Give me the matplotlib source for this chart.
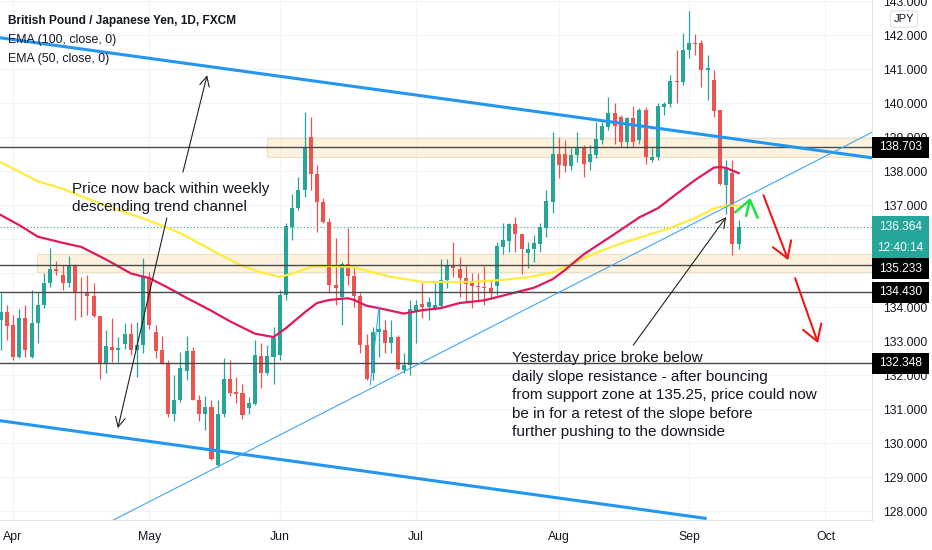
import matplotlib
matplotlib.use('Agg')
import matplotlib.pyplot as plt
from matplotlib.patches import Rectangle
from matplotlib.ticker import FormatStrFormatter

plt.rcParams['font.family'] = ['Liberation Sans', 'DejaVu Sans']

# bar 0 = 1 Apr 2020, weekdays only; the first bar on screen is 30 Mar (-2)
first_bar = -2

opens = [133.62, 133.86, 133.47, 132.52, 133.67, 132.52, 133.52, 134.06, 134.70, 135.12,
         134.94, 134.70, 135.24, 134.42, 134.42, 134.32, 133.73, 132.36, 132.83, 132.73,
         132.91, 133.22, 132.73, 132.88, 134.89, 133.27, 132.73, 132.36, 130.87, 131.26,
         132.13, 132.72, 131.28, 130.87, 131.07, 129.35, 130.87, 131.90, 131.49, 131.46,
         131.02, 131.15, 132.57, 132.05, 132.54, 132.59, 134.35, 136.36, 136.90, 137.44,
         138.99, 137.91, 137.10, 136.51, 134.65, 134.30, 135.28, 134.91, 134.32, 132.88,
         132.05, 133.27, 133.34, 132.93, 133.13, 132.15, 132.30, 133.85, 134.08, 134.01,
         133.96, 134.03, 134.81, 135.23, 135.12, 134.87, 134.70, 134.62, 134.60, 134.55,
         134.62, 135.77, 135.95, 136.44, 136.15, 135.58, 135.70, 135.87, 136.34, 137.10,
         138.50, 138.50, 138.15, 138.47, 138.67, 138.27, 138.47, 138.91, 139.30, 139.71,
         139.58, 138.86, 139.55, 138.91, 139.81, 138.32, 138.42, 139.89, 139.97, 140.66,
         140.61, 141.56, 141.77, 141.76, 140.97, 140.68, 139.79, 137.59, 137.95, 135.87]
highs = [134.40, 134.06, 133.76, 133.93, 134.06, 134.50, 134.45, 135.01, 135.73, 135.36,
         135.24, 135.51, 135.28, 134.89, 134.94, 134.70, 133.75, 133.32, 133.67, 133.13,
         133.54, 133.52, 133.57, 135.43, 135.04, 133.47, 133.15, 132.44, 132.00, 132.69,
         133.15, 132.83, 131.41, 131.38, 131.26, 131.26, 132.49, 132.44, 131.95, 131.75,
         131.36, 133.03, 132.93, 132.88, 133.42, 134.50, 136.48, 137.34, 137.83, 139.74,
         139.60, 138.18, 137.20, 136.61, 136.02, 135.33, 136.34, 135.18, 134.40, 133.22,
         133.42, 134.01, 133.61, 133.61, 133.18, 132.64, 134.20, 134.21, 134.70, 134.30,
         134.70, 135.40, 135.40, 135.92, 135.48, 135.23, 134.99, 134.99, 135.21, 134.79,
         135.92, 136.46, 136.46, 136.64, 136.15, 135.92, 136.12, 136.46, 137.44, 139.16,
         139.01, 138.91, 138.67, 139.16, 138.76, 138.76, 139.45, 139.45, 140.19, 139.99,
         139.65, 139.60, 139.91, 139.84, 139.89, 138.67, 139.99, 140.04, 140.82, 141.56,
         142.05, 142.71, 142.03, 141.85, 141.41, 140.97, 139.81, 138.34, 138.34, 136.56]
lows = [132.73, 133.03, 132.44, 132.49, 132.54, 132.49, 132.93, 133.96, 134.60, 134.94,
        134.50, 134.60, 133.62, 133.72, 133.76, 133.70, 131.90, 132.05, 132.39, 132.39,
        132.78, 132.59, 131.95, 132.64, 133.37, 132.49, 132.34, 130.77, 130.66, 131.22,
        131.87, 131.26, 130.66, 130.38, 129.50, 129.30, 130.77, 131.38, 131.17, 130.70,
        130.87, 131.12, 131.61, 132.00, 131.75, 132.45, 134.20, 135.97, 136.85, 137.24,
        137.44, 136.22, 136.46, 134.40, 134.06, 133.47, 134.65, 134.01, 132.64, 131.85,
        131.85, 132.54, 132.64, 132.64, 132.15, 132.05, 132.00, 132.93, 133.67, 133.62,
        133.91, 133.96, 134.55, 134.89, 134.30, 134.16, 133.96, 134.16, 134.06, 134.25,
        134.35, 135.56, 135.63, 135.63, 134.97, 135.14, 135.33, 135.63, 136.07, 136.76,
        137.79, 137.98, 138.03, 138.27, 137.83, 138.03, 138.37, 138.81, 139.21, 138.81,
        138.72, 138.67, 138.72, 138.81, 138.22, 138.27, 138.34, 139.65, 139.89, 139.99,
        140.53, 141.31, 141.40, 140.48, 140.09, 139.58, 137.59, 136.75, 135.53, 135.72]
closes = [133.86, 133.44, 132.52, 133.67, 132.73, 133.52, 134.06, 134.72, 135.12, 135.07,
          134.70, 135.24, 134.40, 134.40, 134.33, 133.73, 132.34, 132.85, 132.73, 132.81,
          133.22, 132.73, 132.90, 134.89, 133.47, 132.72, 132.36, 130.87, 131.26, 132.20,
          132.72, 131.28, 130.87, 131.07, 129.52, 130.87, 131.90, 131.48, 131.44, 130.82,
          131.17, 132.59, 132.05, 132.56, 133.08, 134.35, 136.38, 136.90, 137.44, 138.72,
          137.91, 137.10, 136.51, 134.65, 134.55, 135.28, 134.91, 134.32, 132.88, 131.90,
          133.27, 133.37, 132.93, 133.13, 132.17, 132.30, 133.95, 134.06, 134.01, 134.16,
          134.06, 134.81, 135.23, 135.14, 134.87, 134.68, 134.62, 134.58, 134.55, 134.42,
          135.79, 135.97, 136.44, 136.15, 135.72, 135.72, 135.89, 136.36, 137.12, 138.50,
          138.18, 138.15, 138.47, 138.67, 138.21, 138.50, 138.93, 139.32, 139.71, 139.32,
          138.86, 139.55, 138.86, 139.81, 138.42, 138.42, 139.91, 139.97, 140.66, 140.61,
          141.56, 141.77, 141.74, 140.97, 141.02, 139.77, 137.62, 138.05, 135.85, 136.364]

month_ticks = [0, 22, 43, 65, 88, 109, 131]
month_labels = ['Apr', 'May', 'Jun', 'Jul', 'Aug', 'Sep', 'Oct']
price_ticks = list(range(128, 144))

ema100_bars = [-2, 1, 4, 8, 11, 16, 19, 23, 27, 30, 33, 37, 40, 43, 45, 48, 51, 55, 58, 61,
               66, 70, 74, 79, 83, 87, 89, 94, 98, 102, 106, 110, 113, 115, 117]
ema100_vals = [138.26, 137.98, 137.70, 137.48, 137.26, 136.92, 136.73, 136.47, 136.17, 135.88,
               135.58, 135.21, 135.02, 134.89, 134.98, 135.18, 135.21, 135.17, 135.02, 134.89,
               134.74, 134.74, 134.74, 134.80, 134.88, 135.02, 135.18, 135.60, 135.87, 136.10,
               136.33, 136.62, 136.90, 136.99, 136.97]
ema50_bars = [-2, 1, 4, 8, 11, 15, 19, 22, 25, 28, 32, 35, 39, 42, 44, 47, 49, 51, 54, 55,
              57, 59, 63, 66, 69, 72, 76, 81, 84, 87, 89, 92, 97, 101, 104, 107, 110, 113,
              114, 115, 117]
ema50_vals = [136.71, 136.41, 136.07, 135.89, 135.77, 135.40, 134.99, 134.85, 134.57, 134.27,
              133.89, 133.58, 133.22, 133.12, 133.38, 133.84, 134.12, 134.21, 134.26, 134.21,
              134.04, 133.97, 133.81, 133.91, 133.97, 134.12, 134.20, 134.43, 134.57, 134.82,
              135.09, 135.55, 136.15, 136.64, 136.91, 137.33, 137.74, 138.10, 138.12, 138.09,
              137.94]

levels = [138.703, 135.233, 134.430, 132.348]
last_price = 136.364
countdown = '12:40:14'

# drawings on the chart, as (bar, price) pairs
upper_channel = [(-2.1, 141.92), (138.5, 138.39)]
lower_channel = [(-2.1, 130.66), (111.6, 127.79)]
rising_slope = [(16.2, 127.74), (138.5, 139.14)]
small_slope = [(57.6, 131.71), (59.0, 134.00)]
resistance_zone = (41.0, 138.41, 138.97)
support_zone = (3.9, 135.03, 135.56)

note_channel = ['Price now back within weekly', 'descending trend channel']
note_break = ['Yesterday price broke below',
              'daily slope resistance - after bouncing',
              'from support zone at 135.25, price could now',
              'be in for a retest of the slope before',
              'further pushing to the downside']

UP = '#26a69a'
DOWN = '#ef5350'
TEXT = '#131722'
X_MIN, X_MAX = -2.1, 138.5
Y_MIN, Y_MAX = 127.74, 143.03


def arrow(ax, start, end, color, lw=1.0, scale=10, head='0.7,head_width=0.35'):
    ax.annotate('', xy=end, xytext=start,
                arrowprops=dict(arrowstyle='->,head_length=' + head, color=color, lw=lw,
                                mutation_scale=scale, shrinkA=0, shrinkB=0),
                zorder=7)


def price_tag(ax, y, text, color):
    w = 57 / 872
    h = 21 / 34
    trans = ax.get_yaxis_transform()
    ax.add_patch(Rectangle((1.0, y - h / 2), w, h, transform=trans, facecolor=color,
                           edgecolor='none', clip_on=False, zorder=10))
    ax.text(1.0 + w / 2, y, text, transform=trans, color='white', ha='center',
            va='center', fontsize=8.6, clip_on=False, zorder=11)


fig = plt.figure(figsize=(9.32, 5.5), dpi=100)
ax = fig.add_axes([0, 30 / 550, 872 / 932, 520 / 550])
ax.set_xlim(X_MIN, X_MAX)
ax.set_ylim(Y_MIN, Y_MAX)

# candles
bars = list(range(first_bar, first_bar + len(closes)))
colors = [UP if c >= o else DOWN for o, c in zip(opens, closes)]
ax.vlines(bars, lows, highs, colors=colors, lw=0.9, zorder=3)
heights = [max(abs(c - o), 0.04) for o, c in zip(opens, closes)]
bottoms = [min(o, c) for o, c in zip(opens, closes)]
ax.bar(bars, heights, bottom=bottoms, width=0.65, color=colors, zorder=3.1)

ax.plot(ema100_bars, ema100_vals, color='#ffeb3b', lw=1.6, zorder=4)
ax.plot(ema50_bars, ema50_vals, color='#e0195f', lw=1.6, zorder=4)

# zones and levels
for x0, lo, hi in (resistance_zone, support_zone):
    ax.add_patch(Rectangle((x0, lo), X_MAX - x0, hi - lo, facecolor='#fbe9c4', alpha=0.55,
                           edgecolor='#e3cf9e', lw=0.8, zorder=2))
for lvl in levels:
    ax.axhline(lvl, color='#4a4a4a', lw=1.0, zorder=5)
ax.axhline(last_price, color=UP, lw=0.8, ls=(0, (1, 2)), zorder=2.5)

for line, lw, col in ((upper_channel, 2.2, '#2196f3'), (lower_channel, 2.2, '#2196f3'),
                      (rising_slope, 0.8, '#42a5f5'), (small_slope, 0.8, '#42a5f5')):
    ax.plot([p[0] for p in line], [p[1] for p in line], color=col, lw=lw, zorder=5)

# notes
for k, line in enumerate(note_channel):
    ax.text(9.5, 137.35 - k * 0.53, line, fontsize=11, color=TEXT, va='baseline', zorder=8)
for k, line in enumerate(note_break):
    ax.text(80.5, 132.38 - k * 0.544, line, fontsize=11, color=TEXT, va='baseline', zorder=8)

arrow(ax, (27.4, 137.97), (31.3, 140.82), '#222222', lw=0.8)
arrow(ax, (24.8, 136.62), (16.9, 130.44), '#222222', lw=0.8)
arrow(ax, (100.0, 132.88), (115.0, 136.65), '#222222', lw=0.8)
arrow(ax, (118.2, 136.68), (118.9, 137.21), '#1ee33c', lw=1.8, scale=14, head='0.8,head_width=0.6')
arrow(ax, (121.0, 137.29), (125.0, 135.38), '#f01818', lw=1.5, scale=14, head='0.8,head_width=0.5')
arrow(ax, (126.1, 134.85), (129.8, 132.94), '#f01818', lw=1.5, scale=14, head='0.8,head_width=0.5')

# axes styling
ax.set_xticks(month_ticks)
ax.set_xticklabels(month_labels)
ax.set_yticks(price_ticks)
ax.yaxis.set_major_formatter(FormatStrFormatter('%.3f'))
ax.yaxis.tick_right()
ax.tick_params(axis='y', length=0, pad=8, labelsize=8.8, labelcolor=TEXT)
ax.tick_params(axis='x', length=0, pad=8, labelsize=8.8, labelcolor=TEXT)
ax.grid(color='#f0f3fa', lw=0.8)
ax.set_axisbelow(True)
for side in ('top', 'left'):
    ax.spines[side].set_visible(False)
for side in ('right', 'bottom'):
    ax.spines[side].set_color('#e0e3eb')

price_tag(ax, levels[0], f'{levels[0]:.3f}', 'black')
price_tag(ax, last_price, f'{last_price:.3f}', UP)
price_tag(ax, last_price - 21 / 34, countdown, UP)
price_tag(ax, last_price - 42 / 34, f'{levels[1]:.3f}', 'black')
price_tag(ax, levels[2], f'{levels[2]:.3f}', 'black')
price_tag(ax, levels[3], f'{levels[3]:.3f}', 'black')

fig.text(904 / 932, 1 - 19 / 550, 'JPY', ha='center', va='center', fontsize=8, color=TEXT,
         bbox=dict(boxstyle='round,pad=0.3', fc='white', ec='#e0e3eb', lw=0.8))

fig.text(8 / 932, 1 - 24 / 550, 'British Pound / Japanese Yen, 1D, FXCM', fontsize=8.6,
         fontweight='bold', color=TEXT, va='baseline')
fig.text(8 / 932, 1 - 43 / 550, 'EMA (100, close, 0)', fontsize=8.9, color=TEXT, va='baseline')
fig.text(8 / 932, 1 - 62 / 550, 'EMA (50, close, 0)', fontsize=8.9, color=TEXT, va='baseline')

fig.savefig('out.png', dpi=100, facecolor='white')
